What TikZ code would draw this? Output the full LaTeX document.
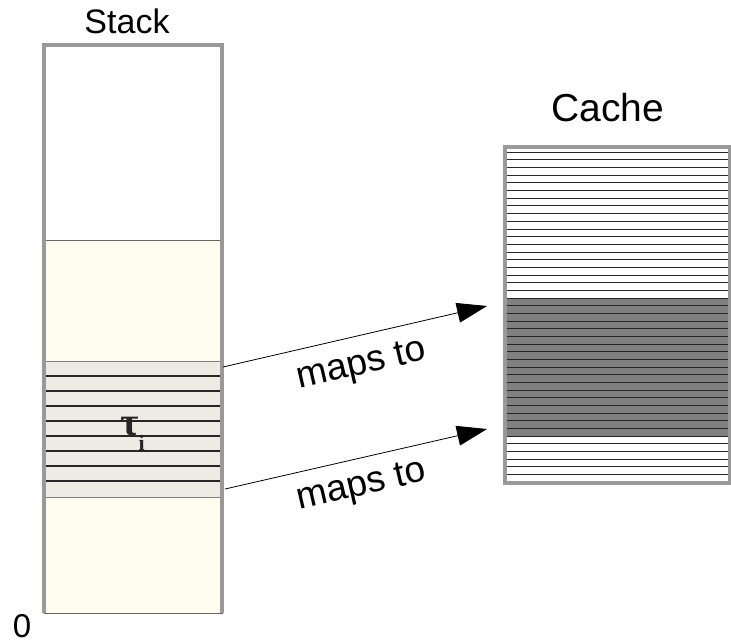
\documentclass[tikz,border=0pt]{standalone}
\usepackage{fontspec}
\setmainfont{Liberation Sans}
\newfontfamily\taufont{Liberation Serif}
\usetikzlibrary{arrows.meta}
\definecolor{framegray}{HTML}{999999}
\definecolor{stackyellow}{HTML}{FEFEF0}
\definecolor{bandgray}{HTML}{ECECE4}
\definecolor{cachedark}{HTML}{808080}
\begin{document}
\begin{tikzpicture}[x=1pt,y=-1pt,
  frame/.style={draw=framegray, line width=4pt},
  lbl/.style={font=\fontsize{37}{40}\selectfont, inner sep=0pt},
  maparrow/.style={-{Triangle[length=30pt,width=20pt]}, line width=0.8pt},
  bandline/.style={line width=1.8pt, black!85},
  cacheline/.style={line width=1pt, black!85},
]
\useasboundingbox (0,0) rectangle (731,643);
% ---- stack ----
\fill[white] (44,45) rectangle (222,612);
\draw[fill=stackyellow, draw=black!60, line width=1pt] (44,240) rectangle (222,613);
\draw[fill=bandgray, draw=black!50, line width=1pt] (44,361) rectangle (222,497);
\foreach \k in {1,...,8} \draw[bandline] (44,{361+15*\k}) -- (222,{361+15*\k});
\draw[frame] (44,613) -- (44,45) -- (222,45) -- (222,613);
\node[lbl, font=\fontsize{34}{38}\selectfont] (stacklabel) at (127,21) {Stack};
\node[lbl, font=\fontsize{33}{36}\selectfont] (zero) at (22,626) {0};
\node[inner sep=0pt, anchor=base west, text=black!85] (tau) at (120,435)
  {\taufont\bfseries\fontsize{40}{42}\selectfont τ\raisebox{-15pt}{\fontsize{22}{24}\selectfont i}};
% ---- cache ----
\fill[white] (503,145) rectangle (728,481);
\fill[cachedark] (503,299) rectangle (728,437);
\foreach \k in {0,...,42} \draw[cacheline] (503,{152.3+7.67*\k}) -- (728,{152.3+7.67*\k});
\node[frame, minimum width=225pt, minimum height=336pt, inner sep=0pt, anchor=north west] (cache) at (503,145) {};
\node[lbl, font=\fontsize{39}{42}\selectfont] (cachelabel) at (608,107.5) {Cache};
% ---- arrows ----
\coordinate (s1) at (223,367);
\coordinate (t1) at (487,306);
\coordinate (s2) at (225,489);
\coordinate (t2) at (487,429);
\draw[maparrow] (s1) -- (t1);
\draw[maparrow] (s2) -- (t2);
\node[lbl, rotate=13] (m1) at (362,366) {maps to};
\node[lbl, rotate=13] (m2) at (362,487) {maps to};
\end{tikzpicture}
\end{document}
